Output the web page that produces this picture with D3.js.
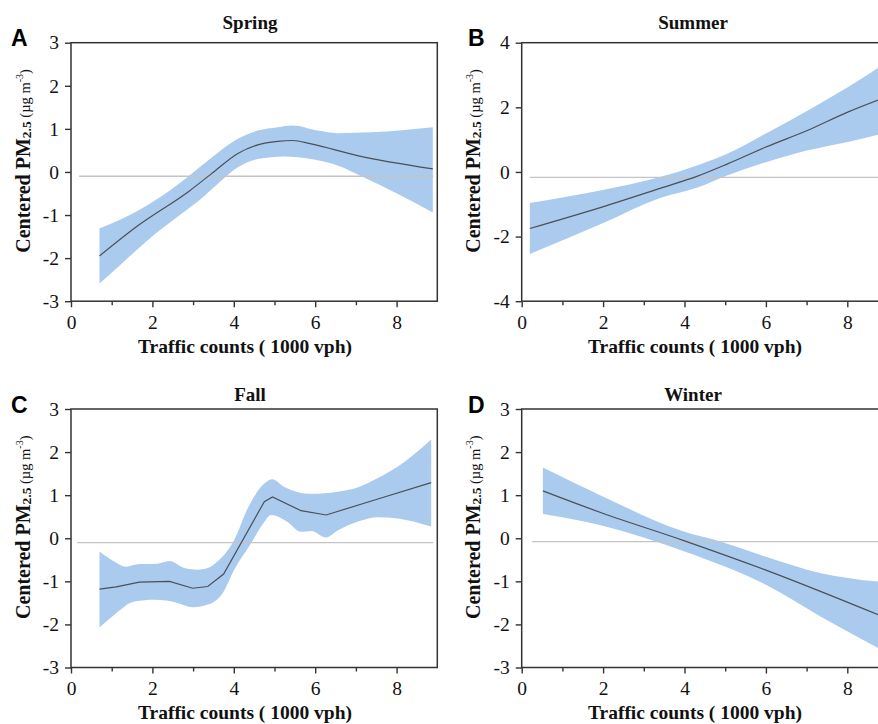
<!DOCTYPE html>
<html>
<head>
<meta charset="utf-8">
<script src="https://cdn.jsdelivr.net/npm/d3@7"></script>
<style>
  body { margin: 0; background: #fff; }
  text { font-family: 'Liberation Serif', 'Times New Roman', serif; }
</style>
</head>
<body>
<script>
// ---- data (x = traffic counts in 1000 vph) ----
var springFitX   = [0.7, 1.64, 2.91, 3.44, 4.1, 4.59, 5.08, 5.45, 5.9, 7.04, 8.89];
var springFit    = [-1.95, -1.25, -0.44, -0.05, 0.43, 0.63, 0.71, 0.73, 0.65, 0.38, 0.07];
var springUpX    = [0.7, 1.23, 2.05, 2.7, 3.36, 4.1, 4.59, 5.08, 5.45, 6.06, 6.55, 7.37, 8.89];
var springUp     = [-1.31, -1.10, -0.67, -0.24, 0.26, 0.77, 0.96, 1.04, 1.08, 0.96, 0.90, 0.92, 1.04];
var springLoX    = [0.7, 1.23, 2.05, 2.7, 3.19, 3.6, 4.1, 4.59, 5.24, 5.9, 6.55, 7.2, 8.03, 8.89];
var springLo     = [-2.59, -2.14, -1.45, -0.98, -0.63, -0.28, 0.11, 0.30, 0.36, 0.30, 0.15, -0.13, -0.51, -0.94];

var summerFitX   = [0.2, 1.99, 3.42, 4.32, 5.06, 6.0, 7.03, 8.01, 8.9];
var summerFit    = [-1.75, -1.08, -0.50, -0.13, 0.25, 0.77, 1.29, 1.85, 2.29];
var summerUpX    = [0.2, 1.99, 3.42, 4.32, 5.06, 6.0, 7.03, 8.01, 8.9];
var summerUp     = [-0.96, -0.56, -0.15, 0.21, 0.57, 1.19, 1.90, 2.62, 3.34];
var summerLoX    = [0.2, 1.99, 3.42, 4.32, 5.06, 6.0, 7.03, 8.01, 8.9];
var summerLo     = [-2.54, -1.59, -0.80, -0.48, -0.10, 0.30, 0.67, 0.93, 1.20];

var fallFitX     = [0.7, 1.11, 1.68, 2.42, 2.99, 3.36, 3.75, 4.75, 4.95, 5.65, 6.27, 7.5, 8.85];
var fallFit      = [-1.18, -1.13, -1.02, -1.0, -1.16, -1.12, -0.83, 0.85, 0.96, 0.64, 0.54, 0.9, 1.29];
var fallUpX      = [0.7, 1.06, 1.35, 1.68, 2.13, 2.42, 2.78, 3.11, 3.36, 3.6, 4.01, 4.34, 4.75, 4.95, 5.24, 5.9, 6.55, 7.04, 7.53, 8.19, 8.85];
var fallUp       = [-0.31, -0.54, -0.66, -0.6, -0.59, -0.53, -0.69, -0.73, -0.69, -0.54, -0.04, 0.69, 1.27, 1.37, 1.19, 1.03, 1.08, 1.18, 1.39, 1.77, 2.29];
var fallLoX      = [0.7, 1.06, 1.56, 2.05, 2.62, 2.99, 3.36, 3.73, 4.01, 4.42, 4.75, 4.91, 5.32, 5.65, 5.9, 6.27, 6.55, 7.13, 7.53, 8.03, 8.85];
var fallLo       = [-2.07, -1.78, -1.47, -1.43, -1.5, -1.6, -1.54, -1.27, -0.73, -0.12, 0.38, 0.54, 0.38, 0.15, 0.17, 0.02, 0.18, 0.41, 0.49, 0.46, 0.27];

var winterFitX   = [0.52, 1.99, 4.0, 6.0, 8.9];
var winterFit    = [1.10, 0.58, -0.06, -0.74, -1.83];
var winterUpX    = [0.52, 1.99, 4.0, 4.9, 6.0, 7.35, 8.9];
var winterUp     = [1.64, 0.97, 0.15, -0.08, -0.43, -0.81, -1.02];
var winterLoX    = [0.52, 1.99, 4.0, 6.0, 7.35, 8.9];
var winterLo     = [0.56, 0.29, -0.31, -1.08, -1.82, -2.62];

// horizontal reference line: [xStart, xEnd, y]
var springRef = [0.2, 8.9, -0.1];
var summerRef = [0.2, 9.0, -0.17];
var fallRef   = [0.15, 8.9, -0.1];
var winterRef = [0.25, 9.0, -0.08];

var letters  = ['A', 'B', 'C', 'D'];
var titles   = ['Spring', 'Summer', 'Fall', 'Winter'];
var yMaxes   = [3, 4, 3, 3];
var xTicks   = [0, 2, 4, 6, 8];
var xMinor   = [1, 3, 5, 7];
var xLabel   = 'Traffic counts ( 1000 vph)';

var zip = (xs, ys) => xs.map((x, i) => [x, ys[i]]);

var series = [
  {fit: zip(springFitX, springFit), up: zip(springUpX, springUp), lo: zip(springLoX, springLo), ref: springRef, curve: d3.curveMonotoneX},
  {fit: zip(summerFitX, summerFit), up: zip(summerUpX, summerUp), lo: zip(summerLoX, summerLo), ref: summerRef, curve: d3.curveMonotoneX},
  {fit: zip(fallFitX, fallFit), up: zip(fallUpX, fallUp), lo: zip(fallLoX, fallLo), ref: fallRef, curve: d3.curveLinear},
  {fit: zip(winterFitX, winterFit), up: zip(winterUpX, winterUp), lo: zip(winterLoX, winterLo), ref: winterRef, curve: d3.curveMonotoneX}
];

// ---- layout ----
var colLeft   = [71, 521.7];
var rowTop    = [42.7, 409];
var plotW     = 366.3;
var plotH     = 258.5;
var titleX    = [250, 693];
var titleY    = [28.5, 401];
var letterX   = [11, 468];
var letterY   = [46, 413];
var yLabX     = [30, 480];
var xLabX     = [245, 695];
var xLabY     = [353, 719];

var svg = d3.select('body')
  .append('svg')
  .attr('width', 878)
  .attr('height', 724);

series.forEach((s, i) => {
  var col = i % 2;
  var row = Math.floor(i / 2);
  var left = colLeft[col];
  var top = rowTop[row];

  var x = d3.scaleLinear().domain([0, 9]).range([left, left + plotW]);
  var y = d3.scaleLinear().domain([-yMaxes[i], yMaxes[i]]).range([top + plotH, top]);

  var g = svg.append('g');

  // confidence band
  var edge = d3.line().x(d => x(d[0])).y(d => y(d[1])).curve(d3.curveMonotoneX);
  var upPath = edge(s.up);
  var loPath = edge(s.lo.slice().reverse());
  g.append('path')
    .attr('d', upPath + 'L' + loPath.slice(1) + 'Z')
    .attr('fill', '#abcbee')
    .attr('stroke', 'none');

  // reference line
  g.append('line')
    .attr('x1', x(s.ref[0]))
    .attr('x2', x(s.ref[1]))
    .attr('y1', y(s.ref[2]))
    .attr('y2', y(s.ref[2]))
    .attr('stroke', '#c4c4c4')
    .attr('stroke-width', 1.3);

  // fitted line
  g.append('path')
    .attr('d', d3.line().x(d => x(d[0])).y(d => y(d[1])).curve(s.curve)(s.fit))
    .attr('fill', 'none')
    .attr('stroke', '#4a4f57')
    .attr('stroke-width', 1.2);

  // frame
  g.append('rect')
    .attr('x', left)
    .attr('y', top)
    .attr('width', plotW)
    .attr('height', plotH)
    .attr('fill', 'none')
    .attr('stroke', '#333')
    .attr('stroke-width', 1.5);

  // axes
  var yAxis = d3.axisLeft(y)
    .tickValues(d3.range(-yMaxes[i], yMaxes[i] + 1, yMaxes[i] === 4 ? 2 : 1))
    .tickFormat(d => String(d))
    .tickSize(6).tickSizeOuter(0).tickPadding(6);
  var ya = g.append('g').attr('transform', 'translate(' + left + ',0)').call(yAxis);

  var xAxis = d3.axisBottom(x)
    .tickValues(xTicks)
    .tickFormat(d => String(d))
    .tickSize(6).tickSizeOuter(0).tickPadding(8);
  var xa = g.append('g').attr('transform', 'translate(0,' + (top + plotH) + ')').call(xAxis);

  var xMin = d3.axisBottom(x)
    .tickValues(xMinor)
    .tickFormat('')
    .tickSize(4).tickSizeOuter(0);
  var xm = g.append('g').attr('transform', 'translate(0,' + (top + plotH) + ')').call(xMin);

  [ya, xa, xm].forEach(a => {
    a.select('.domain').remove();
    a.selectAll('line').attr('stroke', '#333').attr('stroke-width', 1.4);
    a.selectAll('text')
      .attr('fill', '#111')
      .style('font-family', "'Liberation Serif', serif")
      .style('font-size', '19.5px');
  });

  // title and panel letter
  svg.append('text')
    .attr('x', titleX[col])
    .attr('y', titleY[row])
    .attr('text-anchor', 'middle')
    .attr('font-weight', 'bold')
    .attr('font-size', 19)
    .attr('fill', '#111')
    .text(titles[i]);

  svg.append('text')
    .attr('x', letterX[col])
    .attr('y', letterY[row])
    .style('font-family', "'Liberation Sans', Arial, sans-serif")
    .attr('font-weight', 'bold')
    .attr('font-size', 23)
    .attr('fill', '#000')
    .text(letters[i]);

  // x label
  svg.append('text')
    .attr('x', xLabX[col])
    .attr('y', xLabY[row])
    .attr('text-anchor', 'middle')
    .attr('font-weight', 'bold')
    .attr('font-size', 19.5)
    .attr('fill', '#111')
    .text(xLabel);

  // y label
  var yl = svg.append('text')
    .attr('transform', 'translate(' + yLabX[col] + ',' + (top + plotH / 2 - 11) + ') rotate(-90)')
    .attr('text-anchor', 'middle')
    .attr('fill', '#111');
  yl.append('tspan').attr('font-weight', 'bold').attr('font-size', 20).text('Centered PM');
  yl.append('tspan').attr('font-weight', 'bold').attr('font-size', 13.5).attr('dy', 1).text('2.5');
  yl.append('tspan').attr('font-size', 14.5).attr('dy', -1).text(' (\u00b5g m');
  yl.append('tspan').attr('font-size', 10).attr('dy', -7).text('-3');
  yl.append('tspan').attr('font-size', 14.5).attr('dy', 7).text(')');
});
</script>
</body>
</html>
